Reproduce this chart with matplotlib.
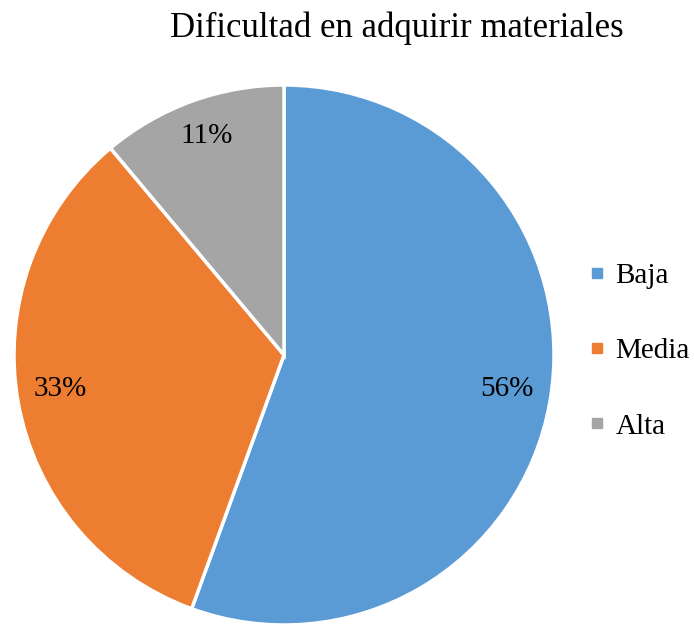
import matplotlib
matplotlib.use('Agg')
import matplotlib.pyplot as plt
from matplotlib.lines import Line2D

plt.rcParams['font.family'] = ['Liberation Serif', 'DejaVu Serif']

## datos del grafico
categorias = ['Baja', 'Media', 'Alta']
valores = [5, 3, 1]
colores = ['#5b9bd5', '#ed7d31', '#a5a5a5']
titulo = 'Dificultad en adquirir materiales'

W, H = 694, 624
fig = plt.figure(figsize=(W / 100, H / 100), dpi=100)

# pie centered at (284, 355) px with radius 270 px
cx, cy, r = 284, 355, 270
ax = fig.add_axes([(cx - r) / W, (H - cy - r) / H, 2 * r / W, 2 * r / H])

wedges, texts, autotexts = ax.pie(
    valores, colors=colores, startangle=90, counterclock=False,
    autopct=lambda p: f'{p:.0f}%', pctdistance=0.84,
    wedgeprops=dict(edgecolor='white', linewidth=2.5),
    textprops=dict(fontsize=21, color='black'))
# labels sit a bit higher in the original
for t in autotexts:
    x, y = t.get_position()
    t.set_position((x, y + 0.02))
ax.set_xlim(-1, 1)
ax.set_ylim(-1, 1)

fig.text(397 / W, 1 - 28 / H, titulo, ha='center', va='center', fontsize=25)

handles = [Line2D([], [], marker='s', linestyle='none', markersize=7,
                  markerfacecolor=c, markeredgecolor=c) for c in colores]
fig.legend(handles, categorias, loc='center left',
           bbox_to_anchor=(563 / W, 1 - 351 / H), frameon=False,
           fontsize=21, labelspacing=1.68, handlelength=0.55, handletextpad=0.35)

fig.savefig('out.png', dpi=100)
